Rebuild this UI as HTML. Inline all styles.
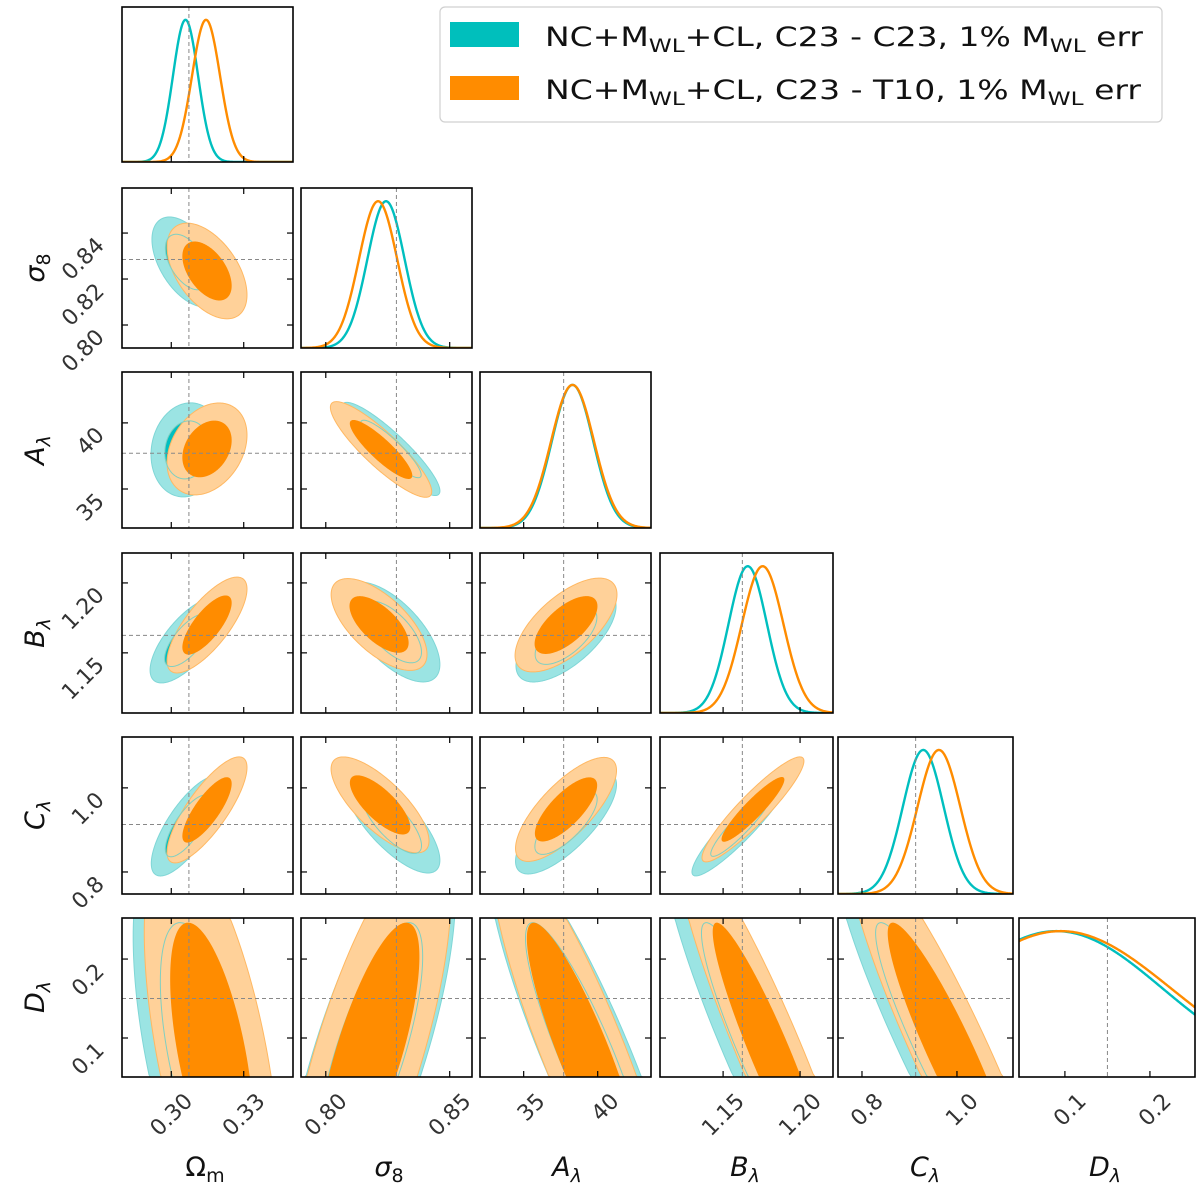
<!DOCTYPE html>
<html><head><meta charset="utf-8"><title>Corner plot</title>
<style>html,body{margin:0;padding:0;background:#fff;overflow:hidden;}svg{display:block;}</style></head>
<body>
<svg id="chart" width="1200" height="1194" viewBox="0 0 1200 1194" xmlns="http://www.w3.org/2000/svg" font-family="'DejaVu Sans','Liberation Sans',sans-serif">
  <g>
    <rect x="440" y="7" width="722" height="115" rx="5" fill="#fff" stroke="#d0d0d0" stroke-width="1.2"/>
    <rect x="450" y="22" width="69" height="25" fill="#00bfbc"/>
    <rect x="450" y="76" width="69" height="24" fill="#ff8c00"/>
    <text x="545" y="46" font-size="27" fill="#111" textLength="598" lengthAdjust="spacingAndGlyphs">NC+M<tspan font-size="19" dy="6">WL</tspan><tspan dy="-6">+CL, C23 - C23, 1% M</tspan><tspan font-size="19" dy="6">WL</tspan><tspan dy="-6"> err</tspan></text>
    <text x="545" y="99" font-size="27" fill="#111" textLength="596" lengthAdjust="spacingAndGlyphs">NC+M<tspan font-size="19" dy="6">WL</tspan><tspan dy="-6">+CL, C23 - T10, 1% M</tspan><tspan font-size="19" dy="6">WL</tspan><tspan dy="-6"> err</tspan></text>
  </g>
</svg>
<script>
// ---- data ----
const paramNames = ["omega-m","sigma-8","a-lambda","b-lambda","c-lambda","d-lambda"];
const xRanges = [[0.2796,0.3504],[0.790,0.859],[32.05,43.6],[1.109,1.2214],[0.7495,1.118],[0.046,0.253]];
const yRanges = [null,[0.790,0.8596],[32.05,43.85],[1.107,1.2214],[0.7476,1.121],[0.0506,0.252]];
const truths = [0.3073,0.8285,37.7,1.1625,0.913,0.15];
const xTicks = [[0.30,0.33],[0.80,0.85],[35,40],[1.15,1.20],[0.8,1.0],[0.1,0.2]];
const xTickLabels = [["0.30","0.33"],["0.80","0.85"],["35","40"],["1.15","1.20"],["0.8","1.0"],["0.1","0.2"]];
const yTicks = [null,[0.80,0.82,0.84],[35,40],[1.15,1.20],[0.8,1.0],[0.1,0.2]];
const yTickLabels = [null,["0.80","0.82","0.84"],["35","40"],["1.15","1.20"],["0.8","1.0"],["0.1","0.2"]];
// 1D marginals [mean, sd]
const cyanMarg = [[0.3059,0.0052],[0.8243,0.0075],[38.3,1.40],[1.166,0.0125],[0.929,0.043],[0.09,0.125]];
const orangeMarg = [[0.3144,0.0058],[0.8211,0.0077],[38.3,1.45],[1.1757,0.0135],[0.962,0.045],[0.095,0.13]];
// 2D contours [row, col, meanX, meanY, sdX, sdY, rho]
const cyan2D = [
 [1,0,0.3065,0.8274,0.00592,0.0080,-0.5],
 [2,0,0.3065,37.96,0.00608,1.453,0.1],
 [2,1,0.8263,38.03,0.00807,1.44,-0.9],
 [3,0,0.3069,1.1591,0.0064,0.0125,0.7],
 [3,1,0.8267,1.1649,0.0079,0.01458,-0.65],
 [3,2,37.86,1.162,1.38,0.0134,0.65],
 [4,0,0.3069,0.9095,0.0062,0.0486,0.75],
 [4,1,0.8267,0.919,0.0079,0.0496,-0.75],
 [4,2,37.86,0.9167,1.393,0.0496,0.75],
 [4,3,1.1616,0.912,0.013,0.0496,0.92],
 [5,0,0.3136,0.08,0.0120,0.11,-0.55],
 [5,1,0.8178,0.08,0.0141,0.11,0.74],
 [5,2,39.2,0.08,2.7,0.11,-0.88],
 [5,3,1.1752,0.08,0.026,0.11,-0.92],
 [5,4,0.9685,0.08,0.0926,0.11,-0.92]
];
const orange2D = [
 [1,0,0.3148,0.8235,0.00676,0.0085,-0.5],
 [2,0,0.3148,38.03,0.00676,1.42,0.3],
 [2,1,0.8223,37.99,0.00835,1.478,-0.88],
 [3,0,0.3148,1.1699,0.00676,0.014,0.75],
 [3,1,0.8215,1.1703,0.0079,0.01341,-0.65],
 [3,2,37.86,1.1699,1.406,0.0137,0.65],
 [4,0,0.3148,0.9476,0.00676,0.0515,0.8],
 [4,1,0.8219,0.9595,0.00807,0.0466,-0.75],
 [4,2,37.86,0.9488,1.393,0.0505,0.75],
 [4,3,1.1694,0.9488,0.01352,0.051,0.92],
 [5,0,0.3168,0.08,0.01143,0.11,-0.57],
 [5,1,0.8173,0.08,0.01356,0.11,0.74],
 [5,2,39.08,0.08,2.56,0.11,-0.88],
 [5,3,1.1808,0.08,0.02487,0.11,-0.93],
 [5,4,0.9887,0.08,0.0891,0.11,-0.92]
];

// ---- layout ----
const colX = [[122,293],[301,472],[480,651],[660,833],[838,1013],[1019,1195]];
const rowY = [[7,162],[188,348],[372,528],[553,713],[737,894],[918,1077]];
const NS = "http://www.w3.org/2000/svg";
const svg = document.getElementById("chart");
function mk(tag, attrs, parent){
  const e = document.createElementNS(NS, tag);
  for (const k in attrs) e.setAttribute(k, attrs[k]);
  (parent || svg).appendChild(e);
  return e;
}
function xs(c, v){ const r = xRanges[c]; return colX[c][0] + (v - r[0])/(r[1]-r[0])*(colX[c][1]-colX[c][0]); }
function ys(rw, v){ const r = yRanges[rw]; return rowY[rw][1] - (v - r[0])/(r[1]-r[0])*(rowY[rw][1]-rowY[rw][0]); }
function clamp(v, a, b){ return Math.max(a, Math.min(b, v)); }
const DIAG_MAX = 1.09;
const R68 = 1.51, R95 = 2.448;

const defs = mk("defs", {});



function ellipsePath(p, r, c, rw){
  const [, , mx, my, sx, sy, rho] = p;
  const q = Math.sqrt(1 - rho*rho);
  let d = "";
  for (let i = 0; i <= 240; i++){
    const t = i/240*2*Math.PI;
    const vx = mx + r*sx*Math.cos(t);
    const vy = my + r*sy*(rho*Math.cos(t) + q*Math.sin(t));
    const px = clamp(xs(c, vx), colX[c][0], colX[c][1]);
    const py = clamp(ys(rw, vy), rowY[rw][0], rowY[rw][1]);
    d += (i ? "L" : "M") + px.toFixed(2) + "," + py.toFixed(2);
  }
  return d + "Z";
}
function findPanel(list, rw, c){ return list.find(p => p[0] === rw && p[1] === c); }

for (let rw = 0; rw < 6; rw++){
  for (let c = 0; c <= rw; c++){
    const x0 = colX[c][0], x1 = colX[c][1], y0 = rowY[rw][0], y1 = rowY[rw][1];
    const g = mk("g", {});
    
    
    const cp = mk("clipPath", {id: "clip" + rw + "_" + c}, defs);
    
    
    mk("rect", {x: x0, y: y0, width: x1-x0, height: y1-y0}, cp);
    const inner = mk("g", {"clip-path": "url(#clip" + rw + "_" + c + ")"}, g);
    
    

    if (rw === c){
      [[cyanMarg, "#00bfbf", "cyan"], [orangeMarg, "#ff8c00", "orange"]].forEach(([m, col, nm]) => {
        const [mu, sd] = m[c];
        let d = "";
        for (let i = 0; i <= 200; i++){
          const v = xRanges[c][0] + (xRanges[c][1]-xRanges[c][0])*i/200;
          const p = Math.exp(-0.5*Math.pow((v-mu)/sd, 2));
          const py = y1 - p/DIAG_MAX*(y1-y0);
          d += (i ? "L" : "M") + xs(c, v).toFixed(2) + "," + py.toFixed(2);
        }
        const path = mk("path", {d: d, fill: "none", stroke: col, "stroke-width": 2.4, "stroke-linejoin": "round"}, inner);
        
        
      });
      const tl = mk("line", {x1: xs(c, truths[c]), x2: xs(c, truths[c]), y1: y0, y2: y1, stroke: "#888", "stroke-width": 1, "stroke-dasharray": "4,3"}, inner);
      
      
    } else {
      const pc = findPanel(cyan2D, rw, c), po = findPanel(orange2D, rw, c);
      const layers = [
        [pc, R95, "#9be4e3", "#7fd6d6", "contour-cyan-95"],
        [pc, R68, "#00bfbf", "none", "contour-cyan-68"],
        [po, R95, "#ffd199", "#ffb862", "contour-orange-95"],
      ];
      layers.forEach(([p, r, fill, stroke, nm]) => {
        const e = mk("path", {d: ellipsePath(p, r, c, rw), fill: fill, stroke: stroke, "stroke-width": 1}, inner);
        
        
      });
      const ol = mk("path", {d: ellipsePath(pc, R68, c, rw), fill: "none", stroke: "#7fcfc2", "stroke-width": 1}, inner);
      
      
      const od = mk("path", {d: ellipsePath(po, R68, c, rw), fill: "#ff8c00", stroke: "none"}, inner);
      
      
      const tv = mk("line", {x1: xs(c, truths[c]), x2: xs(c, truths[c]), y1: y0, y2: y1, stroke: "#888", "stroke-width": 1, "stroke-dasharray": "4,3"}, inner);
      
      
      const th = mk("line", {x1: x0, x2: x1, y1: ys(rw, truths[rw]), y2: ys(rw, truths[rw]), stroke: "#888", "stroke-width": 1, "stroke-dasharray": "4,3"}, inner);
      
      
    }

    xTicks[c].forEach((t, i) => {
      const tx = xs(c, t);
      const b = mk("line", {x1: tx, x2: tx, y1: y1, y2: y1-6, stroke: "#000", "stroke-width": 1.2}, g);
      
      
      if (rw !== c){
        const tt = mk("line", {x1: tx, x2: tx, y1: y0, y2: y0+6, stroke: "#000", "stroke-width": 1.2}, g);
        
        
      }
      if (rw === 5){
        const lb = mk("text", {transform: "translate(" + (tx+17).toFixed(1) + "," + (y1+20) + ") rotate(-45)", "text-anchor": "end", dy: "0.35em", "font-size": 22, fill: "#333"}, g);
        lb.textContent = xTickLabels[c][i];
        
        
      }
    });
    if (rw !== c){
      yTicks[rw].forEach((t, i) => {
        const ty = ys(rw, t);
        const l = mk("line", {x1: x0, x2: x0+6, y1: ty, y2: ty, stroke: "#000", "stroke-width": 1.2}, g);
        
        
        const r2 = mk("line", {x1: x1, x2: x1-6, y1: ty, y2: ty, stroke: "#000", "stroke-width": 1.2}, g);
        
        
        if (c === 0){
          const lb = mk("text", {transform: "translate(" + (x0-22) + "," + (ty+8).toFixed(1) + ") rotate(-45)", "text-anchor": "end", dy: "0.35em", "font-size": 22, fill: "#333"}, g);
          lb.textContent = yTickLabels[rw][i];
          
          
        }
      });
    }
    const fr = mk("rect", {x: x0, y: y0, width: x1-x0, height: y1-y0, fill: "none", stroke: "#000", "stroke-width": 1.6}, g);
    
    
  }
}

const xTitles = [["Ω","m",205,false,false],["σ","8",389,true,false],["A","λ",567,true,true],["B","λ",745,true,true],["C","λ",925,true,true],["D","λ",1105,true,true]];
xTitles.forEach(([m, s, cx, it, sit], i) => {
  const t = mk("text", {x: cx, y: 1176, "text-anchor": "middle", "font-size": 27, fill: "#111"});
  const a = mk("tspan", {"font-style": it ? "italic" : "normal"}, t); a.textContent = m;
  const b = mk("tspan", {"font-size": 19, dy: 6, "font-style": sit ? "italic" : "normal"}, t); b.textContent = s;
  
  
});
const yTitles = [[1,"σ","8",268,false],[2,"A","λ",450,true],[3,"B","λ",633,true],[4,"C","λ",815,true],[5,"D","λ",997,true]];
yTitles.forEach(([rw, m, s, cy, sit]) => {
  const t = mk("text", {transform: "translate(44," + cy + ") rotate(-90)", "text-anchor": "middle", "font-size": 27, fill: "#111"});
  const a = mk("tspan", {"font-style": "italic"}, t); a.textContent = m;
  const b = mk("tspan", {"font-size": 19, dy: 6, "font-style": sit ? "italic" : "normal"}, t); b.textContent = s;
  
  
});
</script>
</body></html>
